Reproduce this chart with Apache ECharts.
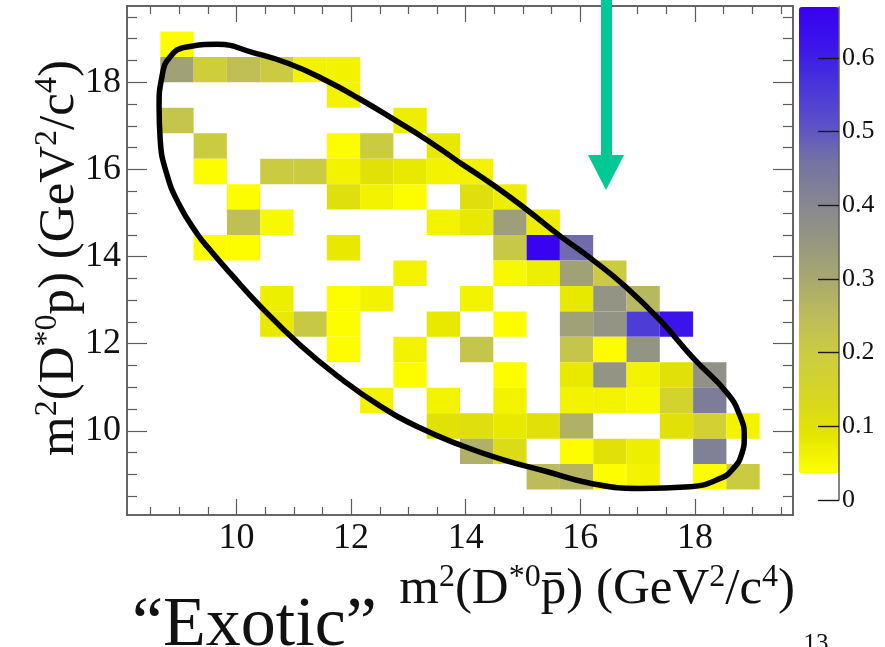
<!DOCTYPE html>
<html>
<head>
<meta charset="utf-8">
<script src="https://cdn.jsdelivr.net/npm/echarts@6.0.0/dist/echarts.min.js"></script>
<style>
  html, body { margin: 0; padding: 0; background: #fff; }
  #dalitz { width: 885px; height: 647px; }
</style>
</head>
<body>
<div id="dalitz"></div>
<script>
// histogram range and binning (20 x 20 bins)
const X_RANGE = [8.09, 19.71]
const Y_RANGE = [8.07, 19.75]
const N_BINS = 20
const Z_RANGE = [0.037, 0.669]

const xMajorTicks = [10, 12, 14, 16, 18]
const xMinorTicks = [8.5, 9, 9.5, 10.5, 11, 11.5, 12.5, 13, 13.5, 14.5, 15, 15.5, 16.5, 17, 17.5, 18.5, 19, 19.5]
const yMajorTicks = [10, 12, 14, 16, 18]
const yMinorTicks = [8.5, 9, 9.5, 10.5, 11, 11.5, 12.5, 13, 13.5, 14.5, 15, 15.5, 16.5, 17, 17.5, 18.5, 19, 19.5]
const zTicks = [0, 0.1, 0.2, 0.3, 0.4, 0.5, 0.6]

// [x bin, y bin, content]
const cells = [
  [1, 18, 0.04],
  [1, 17, 0.32], [2, 17, 0.19], [3, 17, 0.24], [4, 17, 0.2], [5, 17, 0.06], [6, 17, 0.06],
  [6, 16, 0.06],
  [1, 15, 0.22], [8, 15, 0.07],
  [2, 14, 0.2], [6, 14, 0.04], [7, 14, 0.2], [9, 14, 0.08],
  [2, 13, 0.04], [4, 13, 0.2], [5, 13, 0.2], [6, 13, 0.06], [7, 13, 0.1], [8, 13, 0.08], [9, 13, 0.06], [10, 13, 0.06],
  [3, 12, 0.04], [6, 12, 0.11], [7, 12, 0.06], [8, 12, 0.04], [10, 12, 0.11], [11, 12, 0.07],
  [3, 11, 0.24], [4, 11, 0.05], [9, 11, 0.06], [10, 11, 0.08], [11, 11, 0.33], [12, 11, 0.07],
  [2, 10, 0.04], [3, 10, 0.04], [6, 10, 0.08], [11, 10, 0.21], [12, 10, 0.66], [13, 10, 0.47],
  [8, 9, 0.06], [11, 9, 0.05], [12, 9, 0.07], [13, 9, 0.32], [14, 9, 0.2],
  [4, 8, 0.07], [6, 8, 0.04], [7, 8, 0.06], [10, 8, 0.06], [13, 8, 0.08], [14, 8, 0.36], [15, 8, 0.26],
  [4, 7, 0.08], [5, 7, 0.21], [6, 7, 0.04], [9, 7, 0.08], [11, 7, 0.04], [13, 7, 0.32], [14, 7, 0.36], [15, 7, 0.55], [16, 7, 0.62],
  [6, 6, 0.04], [8, 6, 0.06], [10, 6, 0.22], [13, 6, 0.22], [14, 6, 0.04], [15, 6, 0.36],
  [8, 5, 0.04], [11, 5, 0.04], [13, 5, 0.08], [14, 5, 0.36], [15, 5, 0.06], [16, 5, 0.1], [17, 5, 0.37],
  [7, 4, 0.06], [9, 4, 0.06], [11, 4, 0.06], [13, 4, 0.06], [14, 4, 0.06], [15, 4, 0.05], [16, 4, 0.16], [17, 4, 0.43],
  [9, 3, 0.1], [10, 3, 0.11], [11, 3, 0.08], [12, 3, 0.1], [13, 3, 0.28], [16, 3, 0.1], [17, 3, 0.17], [18, 3, 0.06],
  [10, 2, 0.28], [11, 2, 0.12], [13, 2, 0.04], [14, 2, 0.1], [15, 2, 0.07], [17, 2, 0.42],
  [12, 1, 0.25], [13, 1, 0.27], [14, 1, 0.04], [15, 1, 0.06], [17, 1, 0.04], [18, 1, 0.2]
]

// hand-drawn oval, points (clockwise from the upper edge)
const ovalX = [13.90, 14.48, 15.07, 15.65, 16.22, 16.78, 17.39, 17.97, 18.56, 18.79, 18.86, 18.82, 18.67, 18.44,
  17.91, 17.04, 16.17, 15.38, 14.60, 13.90, 13.20, 12.51, 11.81, 11.11, 10.41, 9.89, 9.54, 9.31, 8.99, 8.78,
  8.67, 8.65, 8.70, 8.84, 9.13, 9.66, 10.29, 10.93, 11.58, 12.16, 12.73, 13.33]
const ovalY = [16.15, 15.64, 15.07, 14.47, 13.92, 13.32, 12.54, 11.67, 10.87, 10.33, 9.87, 9.49, 9.14, 8.91,
  8.72, 8.68, 8.80, 9.08, 9.36, 9.68, 10.07, 10.57, 11.21, 11.97, 12.87, 13.62, 14.15, 14.53, 15.22, 15.91,
  16.67, 17.44, 18.13, 18.58, 18.81, 18.87, 18.68, 18.42, 18.03, 17.61, 17.16, 16.67]

const FONT = 'Liberation Serif'
const FRAME = '#5c5c5c'
const GREEN = '#00c995'

const binW = (X_RANGE[1] - X_RANGE[0]) / N_BINS
const binH = (Y_RANGE[1] - Y_RANGE[0]) / N_BINS

function frameAxis (dim, position, ticks, len, withLabel) {
  const range = dim === 'x' ? X_RANGE : Y_RANGE
  return {
    type: 'value',
    gridIndex: 0,
    position: position,
    min: range[0],
    max: range[1],
    z: 6,
    axisLine: { show: true, onZero: false, lineStyle: { color: FRAME, width: 1.5 } },
    axisTick: { show: true, inside: true, length: len, customValues: ticks, lineStyle: { color: FRAME, width: 1.2 } },
    axisLabel: withLabel ? {
      show: true,
      customValues: ticks,
      fontFamily: FONT,
      fontSize: 36,
      color: '#111',
      margin: 6
    } : { show: false },
    splitLine: { show: false }
  }
}

const rich = {
  t: { fontFamily: FONT, fontSize: 51, fill: '#111', color: '#111', lineHeight: 56 },
  s: { fontFamily: FONT, fontSize: 32, fill: '#111', color: '#111', verticalAlign: 'top', lineHeight: 56 }
}

var chart = echarts.init(document.getElementById('dalitz'))
let option = {
  animation: false,
  grid: [
    { left: 127, top: 6, right: 92, bottom: 132 },
    { left: 839, top: 7, right: 45, bottom: 147 }
  ],
  xAxis: [
    frameAxis('x', 'bottom', xMajorTicks, 16, true),
    frameAxis('x', 'bottom', xMinorTicks, 8, false),
    frameAxis('x', 'top', xMajorTicks, 16, false),
    frameAxis('x', 'top', xMinorTicks, 8, false),
    { type: 'value', gridIndex: 1, show: false, min: 0, max: 1 }
  ],
  yAxis: [
    frameAxis('y', 'left', yMajorTicks, 20, true),
    frameAxis('y', 'left', yMinorTicks, 10, false),
    frameAxis('y', 'right', yMajorTicks, 20, false),
    frameAxis('y', 'right', yMinorTicks, 10, false),
    {
      // palette axis: line and ticks reaching into the colour bar
      type: 'value',
      gridIndex: 1,
      position: 'left',
      min: 0,
      max: 0.669,
      z: 50,
      axisLine: { show: true, lineStyle: { color: FRAME, width: 1.5 } },
      axisTick: { show: true, inside: false, length: 21, customValues: zTicks, lineStyle: { color: '#1a1a1a', width: 1.4 } },
      axisLabel: { show: false },
      splitLine: { show: false }
    },
    {
      // palette axis labels
      type: 'value',
      gridIndex: 1,
      position: 'right',
      min: 0,
      max: 0.669,
      z: 50,
      axisLine: { show: false },
      axisTick: { show: false },
      axisLabel: { show: true, customValues: zTicks, fontFamily: FONT, fontSize: 26, color: '#111', margin: 2 },
      splitLine: { show: false }
    }
  ],
  visualMap: {
    type: 'continuous',
    seriesIndex: 0,
    dimension: 2,
    min: Z_RANGE[0],
    max: Z_RANGE[1],
    left: 799,
    top: 7,
    z: 1,
    padding: 0,
    itemWidth: 40,
    itemHeight: 466,
    calculable: false,
    hoverLink: false,
    text: null,
    inRange: {
      color: ['#ffff00', '#e4e400', '#d6d624', '#cdcd40', '#bdbd5a', '#a8a870', '#969682',
        '#858592', '#7474a4', '#5a50c8', '#4636da', '#3c14ea', '#3a00f0']
    }
  },
  series: [{
    type: 'custom',
    xAxisIndex: 0,
    yAxisIndex: 0,
    data: cells.map(c => [X_RANGE[0] + (c[0] + 0.5) * binW, Y_RANGE[0] + (c[1] + 0.5) * binH, c[2]]),
    encode: { x: 0, y: 1 },
    renderItem: function (params, api) {
      const p0 = api.coord([api.value(0) - binW / 2, api.value(1) + binH / 2])
      const p1 = api.coord([api.value(0) + binW / 2, api.value(1) - binH / 2])
      return {
        type: 'rect',
        shape: { x: p0[0], y: p0[1], width: p1[0] - p0[0], height: p1[1] - p0[1] },
        style: { fill: api.visual('color') }
      }
    }
  }, {
    type: 'line',
    xAxisIndex: 0,
    yAxisIndex: 0,
    data: ovalX.map((x, i) => [x, ovalY[i]]).concat([[ovalX[0], ovalY[0]]]),
    smooth: 0.5,
    showSymbol: false,
    symbol: 'none',
    silent: true,
    z: 5,
    lineStyle: { color: '#000', width: 5.5 }
  }],
  graphic: [
    {
      type: 'text', x: 795, y: 618, z: 20,
      style: {
        text: '{t|m}{s|2}{t|(D}{s|*0}{t|p\u0304) (GeV}{s|2}{t|/c}{s|4}{t|)}',
        rich: rich, align: 'right', verticalAlign: 'bottom'
      }
    },
    {
      type: 'text', x: 60, y: 258, rotation: Math.PI / 2, z: 20,
      style: {
        text: '{t|m}{s|2}{t|(D}{s|*0}{t|p) (GeV}{s|2}{t|/c}{s|4}{t|)}',
        rich: rich, align: 'center', verticalAlign: 'middle'
      }
    },
    {
      type: 'text', x: 132, y: 592, z: 20,
      style: { text: '\u201cExotic\u201d', fontFamily: FONT, fontSize: 70, fill: '#111', align: 'left', verticalAlign: 'top' }
    },
    {
      type: 'text', x: 816, y: 632, z: 20,
      style: { text: '13', fontFamily: FONT, fontSize: 25, fill: '#111', align: 'center', verticalAlign: 'top' }
    },
    { type: 'rect', z: 30, shape: { x: 601, y: 0, width: 11, height: 156 }, style: { fill: GREEN } },
    { type: 'polygon', z: 30, shape: { points: [[588, 155], [624, 155], [606, 190]] }, style: { fill: GREEN } }
  ]
}
chart.setOption(option)
</script>
</body>
</html>
